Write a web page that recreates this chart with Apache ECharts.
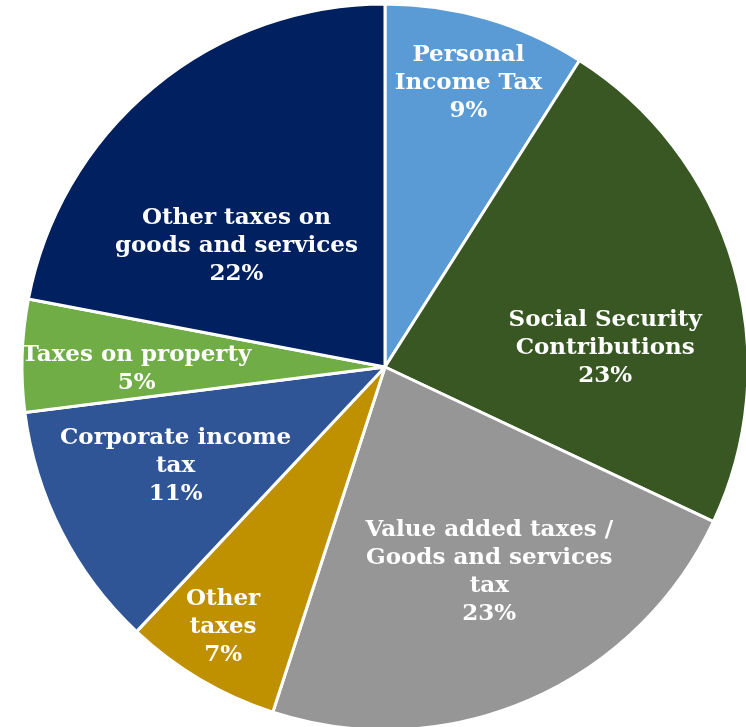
<!DOCTYPE html>
<html>
<head>
<meta charset="utf-8">
<script src="https://cdn.jsdelivr.net/npm/echarts@6/dist/echarts.min.js"></script>
<style>
  html, body { margin: 0; padding: 0; background: #ffffff; }
  #chart { width: 746px; height: 727px; }
</style>
</head>
<body>
<div id="chart"></div>
<script>
// Tax revenue composition, clockwise from 12 o'clock
const categories = [
  'Personal\nIncome Tax',
  'Social Security\nContributions',
  'Value added taxes /\nGoods and services\ntax',
  'Other\ntaxes',
  'Corporate income\ntax',
  'Taxes on property',
  'Other taxes on\ngoods and services'
];
const shares = [9, 23, 23, 7, 11, 5, 22];

const sliceColors = ['#5b9bd5', '#385723', '#969696', '#bf9000', '#2f5597', '#70ad47', '#002060'];
// nudges from the default inside label anchor (px)
const labelShift = [[32, -107], [43, 33], [31, 36], [-68, 101], [-45, 15], [-64, 8], [-31, 21]];

const chart = echarts.init(document.getElementById('chart'), null, { renderer: 'canvas' });

chart.setOption({
  animation: false,
  backgroundColor: '#ffffff',
  series: [{
    type: 'pie',
    center: [385, 367],
    radius: [0, 363],
    startAngle: 90,
    clockwise: true,
    avoidLabelOverlap: false,
    itemStyle: { borderColor: '#ffffff', borderWidth: 3 },
    label: {
      show: true,
      position: 'inside',
      color: '#ffffff',
      fontFamily: 'DejaVu Serif',
      fontWeight: 'bold',
      fontSize: 23,
      lineHeight: 28,
      align: 'center',
      formatter: p => p.name + '\n' + p.value + '%'
    },
    labelLine: { show: false },
    emphasis: { disabled: true },
    data: categories.map((name, i) => ({
      name: name,
      value: shares[i],
      itemStyle: { color: sliceColors[i] },
      label: { offset: labelShift[i] }
    }))
  }]
});
</script>
</body>
</html>
